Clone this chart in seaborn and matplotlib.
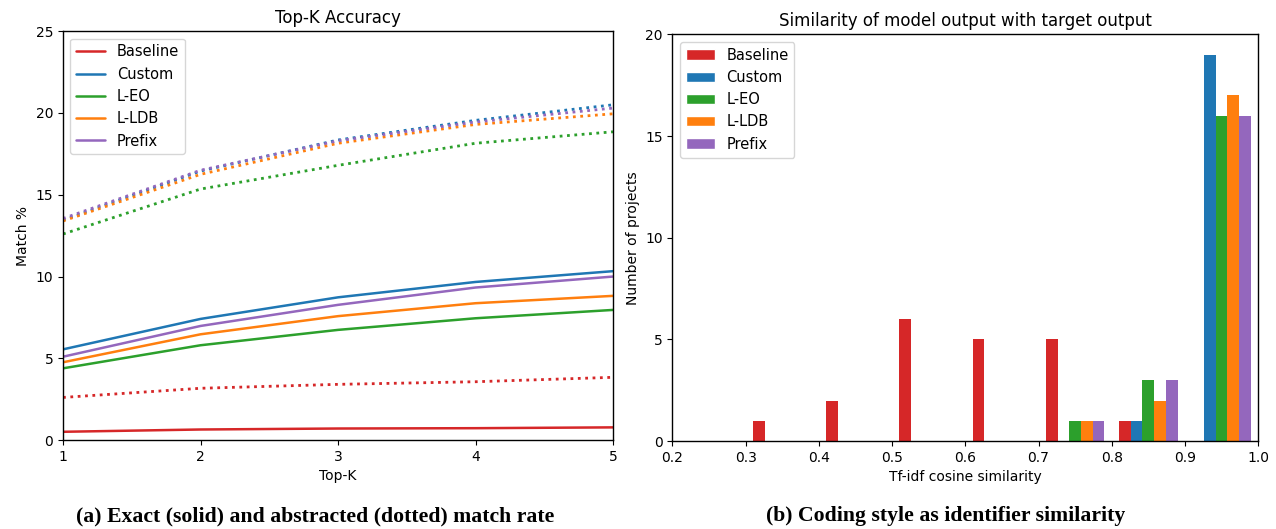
import numpy as np
import pandas as pd
import matplotlib
matplotlib.use("Agg")
import matplotlib.pyplot as plt
from matplotlib.patches import Patch
import seaborn as sns

# ---- data: top-k accuracy (left panel) ----
top_k = [1, 2, 3, 4, 5]
models = ['Baseline', 'Custom', 'L-EO', 'L-LDB', 'Prefix']
colors = ['#d62728', '#1f77b4', '#2ca02c', '#ff7f0e', '#9467bd']

exact_baseline = [0.51, 0.65, 0.71, 0.73, 0.78]
exact_custom = [5.55, 7.41, 8.73, 9.67, 10.33]
exact_leo = [4.39, 5.80, 6.74, 7.45, 7.96]
exact_lldb = [4.76, 6.47, 7.58, 8.37, 8.82]
exact_prefix = [5.10, 6.98, 8.27, 9.33, 10.00]

abstr_baseline = [2.61, 3.17, 3.41, 3.57, 3.84]
abstr_custom = [13.45, 16.45, 18.35, 19.55, 20.50]
abstr_leo = [12.60, 15.35, 16.80, 18.15, 18.85]
abstr_lldb = [13.40, 16.25, 18.15, 19.30, 19.95]
abstr_prefix = [13.55, 16.50, 18.30, 19.45, 20.30]

# ---- data: similarity histogram (right panel), counts per bin ----
bin_edges = [0.3, 0.4, 0.5, 0.6, 0.7, 0.8, 0.9, 1.0]
count_baseline = [1, 2, 6, 5, 5, 1, 0]
count_custom = [0, 0, 0, 0, 0, 1, 19]
count_leo = [0, 0, 0, 0, 1, 3, 16]
count_lldb = [0, 0, 0, 0, 1, 2, 17]
count_prefix = [0, 0, 0, 0, 1, 3, 16]

exact = [exact_baseline, exact_custom, exact_leo, exact_lldb, exact_prefix]
abstr = [abstr_baseline, abstr_custom, abstr_leo, abstr_lldb, abstr_prefix]
counts = [count_baseline, count_custom, count_leo, count_lldb, count_prefix]

sns.set_style("ticks", {'text.color': 'black', 'axes.labelcolor': 'black',
                        'xtick.color': 'black', 'ytick.color': 'black',
                        'axes.edgecolor': 'black'})
plt.rcParams['font.family'] = ['DejaVu Sans']

fig = plt.figure(figsize=(12.76, 5.29), dpi=100)
ax1 = fig.add_axes([0.0494, 0.168, 0.431, 0.773])
ax2 = fig.add_axes([0.527, 0.166, 0.459, 0.769])

# left: solid = exact, dotted = abstracted
for name, c, ys in zip(models, colors, exact):
    sns.lineplot(x=top_k, y=ys, color=c, linewidth=1.8, label=name, ax=ax1)
for name, c, ys in zip(models, colors, abstr):
    sns.lineplot(x=top_k, y=ys, color=c, linewidth=2.0, linestyle=':', ax=ax1, legend=False)

ax1.set_xlim(1, 5)
ax1.set_ylim(0, 25)
ax1.set_xticks(top_k)
ax1.set_yticks([0, 5, 10, 15, 20, 25])
ax1.set_title('Top-K Accuracy', fontsize=12)
ax1.set_xlabel('Top-K', fontsize=10)
ax1.set_ylabel('Match %', fontsize=10)
ax1.legend(loc='upper left', fontsize=10.5, handlelength=2.0)

# right: grouped histogram
centers = [(a + b) / 2 for a, b in zip(bin_edges[:-1], bin_edges[1:])]
rows = []
for name, cnt in zip(models, counts):
    for x, w in zip(centers, cnt):
        rows.append({'sim': x, 'count': w, 'model': name})
hist_df = pd.DataFrame(rows)

sns.histplot(data=hist_df, x='sim', weights='count', hue='model',
             hue_order=models, palette=colors, bins=bin_edges,
             multiple='dodge', shrink=0.8, alpha=1, linewidth=0,
             legend=False, ax=ax2)

ax2.set_xlim(0.2, 1.0)
ax2.set_ylim(0, 20)
ax2.set_xticks([0.2, 0.3, 0.4, 0.5, 0.6, 0.7, 0.8, 0.9, 1.0])
ax2.set_yticks([0, 5, 10, 15, 20])
ax2.set_title('Similarity of model output with target output', fontsize=12)
ax2.set_xlabel('Tf-idf cosine similarity', fontsize=10)
ax2.set_ylabel('Number of projects', fontsize=10)
handles = [Patch(facecolor=c, label=n) for n, c in zip(models, colors)]
ax2.legend(handles=handles, loc='upper left', fontsize=10.5)

for ax in (ax1, ax2):
    for sp in ax.spines.values():
        sp.set_visible(True)
        sp.set_linewidth(1.0)
    ax.tick_params(labelsize=10)

fig.text(315 / 1276, 1 - 516 / 529, '(a) Exact (solid) and abstracted (dotted) match rate',
         ha='center', va='center', fontsize=15.7, fontweight='bold', family=['Liberation Serif'])
fig.text(946 / 1276, 1 - 516 / 529, '(b) Coding style as identifier similarity',
         ha='center', va='center', fontsize=15.7, fontweight='bold', family=['Liberation Serif'])

fig.savefig('out.png', dpi=100)
